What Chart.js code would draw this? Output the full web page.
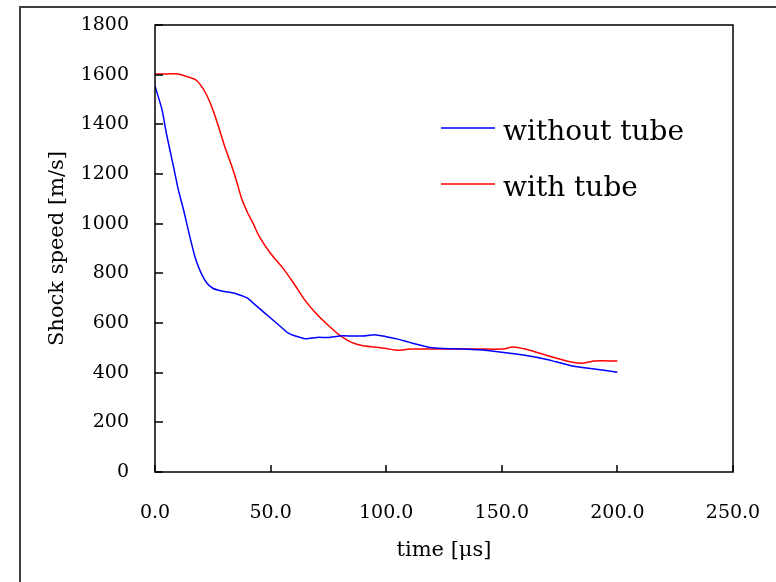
<!DOCTYPE html>
<html>
<head>
<meta charset="utf-8">
<script src="https://cdn.jsdelivr.net/npm/chart.js@4/dist/chart.umd.min.js"></script>
<style>
  html, body { margin: 0; padding: 0; background: #fff; }
  #wrap { width: 776px; height: 582px; }
</style>
</head>
<body>
<div id="wrap"><canvas id="chart" width="776" height="582"></canvas></div>
<script>
// shock speed vs time
const timeWithout = [0, 3, 5, 8, 10, 12.5, 15, 17.5, 20, 22.5, 25, 27.5, 30, 35, 40, 42.5, 45, 50, 55, 57.5,
                     60, 65, 70, 75, 80, 85, 90, 95, 100, 105, 110, 120, 130, 140, 150, 160, 170, 180, 190, 200];
const speedWithout = [1555, 1460, 1360, 1230, 1140, 1050, 950, 860, 800, 760, 740, 732, 727, 718, 700, 680, 660, 620, 580, 560,
                      550, 537, 542, 542, 548, 548, 548, 553, 545, 535, 522, 500, 496, 492, 482, 470, 452, 428, 415, 402];

const timeWith = [0, 5, 10, 14, 17.5, 20, 22.5, 25, 27.5, 30, 32.5, 35, 37.5, 40, 42.5, 45, 50, 55, 60, 65, 70, 75,
                  80, 85, 90, 95, 100, 105, 110, 120, 130, 140, 150, 155, 160, 165, 170, 175, 180, 185, 190, 200];
const speedWith = [1603, 1603, 1603, 1592, 1580, 1555, 1515, 1460, 1390, 1315, 1250, 1180, 1100, 1045, 1000, 950, 880, 825, 760, 690, 635, 590,
                   550, 522, 508, 503, 497, 490, 495, 495, 495, 495, 495, 503, 495, 482, 468, 455, 443, 438, 447, 447];

const seriesNames = ["without tube", "with tube"];
const seriesColors = ["#0000ff", "#ff0000"];

const xTicks = [0, 50, 100, 150, 200, 250];
const yTicks = [0, 200, 400, 600, 800, 1000, 1200, 1400, 1600, 1800];

function toPoints(xs, ys) {
    return xs.map((x, i) => ({ x: x, y: ys[i] }));
}

const serif = "'DejaVu Serif', serif";

// frame, inward ticks, outer border, legend
const framePlugin = {
    id: 'frame',
    afterDraw(chart) {
        const ctx = chart.ctx;
        const a = chart.chartArea;
        const xs = chart.scales.x, ys = chart.scales.y;
        ctx.save();
        // outer figure border
        ctx.strokeStyle = '#404040';
        ctx.lineWidth = 2;
        ctx.strokeRect(20, 7, 800, 600);
        // plot frame
        ctx.strokeStyle = '#000';
        ctx.lineWidth = 1.5;
        ctx.strokeRect(a.left, a.top, a.right - a.left, a.bottom - a.top);
        ctx.lineWidth = 1.5;
        ctx.beginPath();
        yTicks.forEach(v => {
            const py = Math.round(ys.getPixelForValue(v));
            ctx.moveTo(a.left, py);
            ctx.lineTo(a.left + 8, py);
        });
        xTicks.forEach(v => {
            const px = Math.round(xs.getPixelForValue(v));
            ctx.moveTo(px, a.bottom);
            ctx.lineTo(px, a.bottom - 7);
        });
        ctx.stroke();
        // legend
        ctx.font = "28px " + serif;
        ctx.fillStyle = '#000';
        ctx.textBaseline = 'alphabetic';
        const rows = [128, 184];
        seriesNames.forEach((name, i) => {
            ctx.strokeStyle = seriesColors[i];
            ctx.lineWidth = 1.5;
            ctx.beginPath();
            ctx.moveTo(441, rows[i]);
            ctx.lineTo(495, rows[i]);
            ctx.stroke();
            ctx.fillText(name, 503, rows[i] + 11.5);
        });
        ctx.restore();
    }
};

new Chart(document.getElementById('chart'), {
    type: 'scatter',
    data: {
        datasets: [
            {
                label: seriesNames[0],
                data: toPoints(timeWithout, speedWithout),
                borderColor: seriesColors[0],
                borderWidth: 1.5,
                showLine: true,
                pointRadius: 0,
                tension: 0.2
            },
            {
                label: seriesNames[1],
                data: toPoints(timeWith, speedWith),
                borderColor: seriesColors[1],
                borderWidth: 1.5,
                showLine: true,
                pointRadius: 0,
                tension: 0.2
            }
        ]
    },
    options: {
        responsive: false,
        animation: false,
        layout: { padding: { left: 0, top: 25, right: 43, bottom: 0 } },
        plugins: {
            legend: { display: false },
            tooltip: { enabled: false }
        },
        scales: {
            x: {
                type: 'linear',
                min: 0,
                max: 250,
                afterFit(scale) {
                    scale.height = 110;
                    scale.paddingLeft = 0;
                    scale.paddingRight = 0;
                },
                afterBuildTicks(scale) { scale.ticks = xTicks.map(v => ({ value: v })); },
                grid: { display: false, drawTicks: false },
                border: { display: false },
                ticks: {
                    color: '#000',
                    font: { family: serif, size: 19 },
                    padding: 30,
                    maxRotation: 0,
                    callback: v => v.toFixed(1)
                },
                title: {
                    display: true,
                    text: 'time [μs]',
                    color: '#000',
                    font: { family: serif, size: 21 },
                    padding: { top: 0, bottom: 19 }
                }
            },
            y: {
                min: 0,
                max: 1800,
                afterFit(scale) {
                    scale.width = 155;
                    scale.paddingTop = 0;
                    scale.paddingBottom = 0;
                },
                afterBuildTicks(scale) { scale.ticks = yTicks.map(v => ({ value: v })); },
                grid: { display: false, drawTicks: false },
                border: { display: false },
                ticks: {
                    color: '#000',
                    font: { family: serif, size: 19 },
                    padding: 26,
                    callback: v => String(v)
                },
                title: {
                    display: true,
                    text: 'Shock speed [m/s]',
                    color: '#000',
                    font: { family: serif, size: 21 },
                    padding: { top: 45, bottom: 0 }
                }
            }
        }
    },
    plugins: [framePlugin]
});
</script>
</body>
</html>
